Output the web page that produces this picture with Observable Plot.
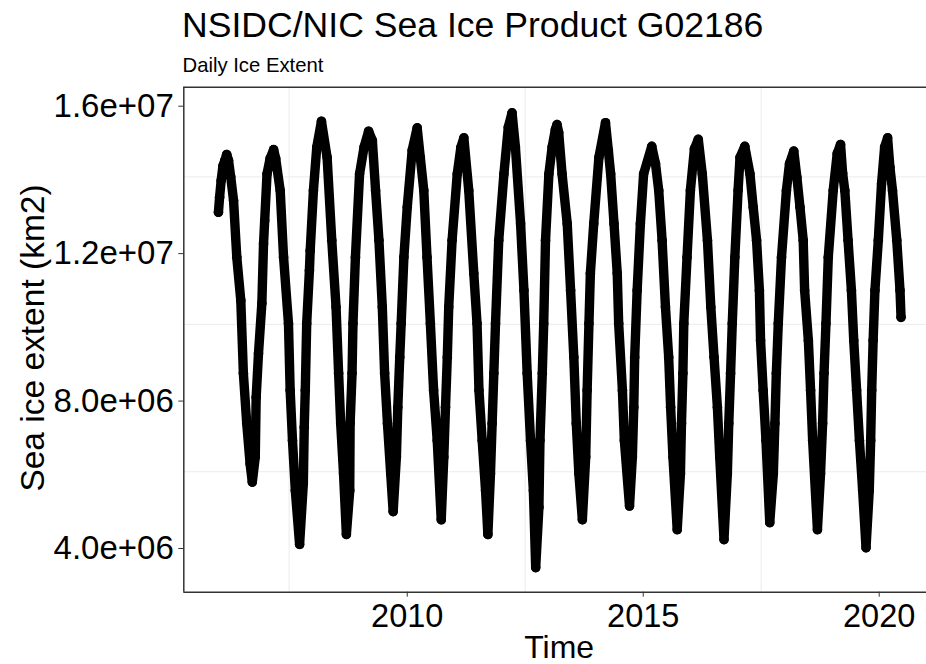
<!DOCTYPE html>
<html>
<head>
<meta charset="utf-8">
<script src="https://cdn.jsdelivr.net/npm/d3@7"></script>
<script src="https://cdn.jsdelivr.net/npm/@observablehq/plot@0.6"></script>
<style>
  html, body { margin: 0; padding: 0; background: #fff; }
  #wrap { position: relative; width: 926px; height: 664px; overflow: hidden; font-family: "Liberation Sans", Arial, Helvetica, sans-serif; }
  #header { position: relative; width: 926px; height: 80px; }
  #title { position: absolute; left: 182px; top: 8.3px; font-size: 35.6px; line-height: 1; color: #000; white-space: nowrap; }
  #subtitle { position: absolute; left: 182.5px; top: 54.7px; font-size: 20.3px; line-height: 1; color: #000; white-space: nowrap; }
  svg { display: block; }
</style>
</head>
<body>
<div id="wrap">
  <div id="header">
    <div id="title">NSIDC/NIC Sea Ice Product G02186</div>
    <div id="subtitle">Daily Ice Extent</div>
  </div>
  <div id="chart"></div>
</div>
<script>
// ---- Data (date, sea ice extent in km2) ----
const y2006 = [["2006-01-01",13.04e6],["2006-01-10",13.45e6],["2006-01-22",13.90e6],["2006-02-05",14.30e6],["2006-02-20",14.45e6],["2006-03-06",14.61e6],["2006-03-20",14.45e6],["2006-04-06",14.00e6],["2006-04-28",13.36e6],["2006-05-23",11.82e6],["2006-06-23",10.65e6],["2006-07-13",8.67e6],["2006-08-08",7.31e6],["2006-09-03",6.22e6],["2006-09-20",5.72e6],["2006-10-13",6.40e6],["2006-10-20",8.02e6],["2006-11-07",9.21e6],["2006-12-03",10.57e6],["2006-12-16",12.19e6],["2006-12-25",12.82e6]];
const y2007 = [["2007-01-12",14.08e6],["2007-02-05",14.50e6],["2007-03-04",14.74e6],["2007-03-20",14.50e6],["2007-04-24",13.63e6],["2007-05-20",11.82e6],["2007-06-27",10.02e6],["2007-07-10",8.21e6],["2007-07-28",6.85e6],["2007-08-19",5.49e6],["2007-09-21",4.03e6],["2007-10-20",5.68e6],["2007-10-27",7.21e6],["2007-11-04",8.21e6],["2007-11-15",10.02e6],["2007-12-06",11.46e6],["2007-12-12",12.00e6]];
const y2008 = [["2008-01-06",13.63e6],["2008-02-01",14.81e6],["2008-03-08",15.51e6],["2008-04-21",14.53e6],["2008-05-27",12.28e6],["2008-06-29",10.47e6],["2008-07-19",8.67e6],["2008-08-04",7.31e6],["2008-08-26",5.95e6],["2008-09-17",4.30e6],["2008-10-13",5.49e6],["2008-10-16",7.31e6],["2008-10-31",8.67e6],["2008-11-07",10.02e6],["2008-11-26",11.82e6],["2008-12-28",14.08e6]];
const y2009 = [["2009-02-01",14.81e6],["2009-03-08",15.24e6],["2009-04-06",14.99e6],["2009-05-01",13.63e6],["2009-05-27",12.28e6],["2009-06-22",10.47e6],["2009-07-10",8.67e6],["2009-08-01",7.31e6],["2009-08-26",5.95e6],["2009-09-14",4.92e6],["2009-10-09",6.40e6],["2009-10-20",7.75e6],["2009-11-04",9.11e6],["2009-11-15",10.02e6],["2009-12-06",11.82e6]];
const y2010 = [["2010-01-01",13.18e6],["2010-02-08",14.72e6],["2010-03-19",15.33e6],["2010-04-12",14.53e6],["2010-05-09",13.63e6],["2010-06-03",11.82e6],["2010-06-29",10.02e6],["2010-07-24",8.21e6],["2010-08-21",6.85e6],["2010-09-21",4.70e6],["2010-10-11",6.40e6],["2010-10-24",7.75e6],["2010-11-07",9.11e6],["2010-11-18",10.47e6],["2010-12-14",12.28e6]];
const y2011 = [["2011-01-23",14.08e6],["2011-02-20",14.80e6],["2011-03-15",15.06e6],["2011-04-22",13.63e6],["2011-05-31",11.38e6],["2011-06-25",10.02e6],["2011-07-10",8.21e6],["2011-08-04",6.85e6],["2011-08-30",5.49e6],["2011-09-17",4.30e6],["2011-10-07",5.95e6],["2011-10-20",7.31e6],["2011-11-02",8.67e6],["2011-11-15",10.02e6],["2011-12-10",12.28e6]];
const y2012 = [["2012-01-19",14.08e6],["2012-02-22",15.35e6],["2012-03-22",15.74e6],["2012-04-17",14.81e6],["2012-05-27",12.73e6],["2012-06-22",10.92e6],["2012-07-17",8.67e6],["2012-08-12",6.85e6],["2012-09-03",5.49e6],["2012-09-21",3.40e6],["2012-10-16",5.04e6],["2012-10-24",6.85e6],["2012-11-11",8.67e6],["2012-11-22",10.02e6],["2012-12-06",12.28e6]];
const y2013 = [["2013-01-01",14.08e6],["2013-01-26",14.81e6],["2013-02-20",15.28e6],["2013-03-05",15.42e6],["2013-03-18",15.20e6],["2013-04-13",14.08e6],["2013-05-23",12.73e6],["2013-06-18",10.92e6],["2013-07-13",9.11e6],["2013-08-01",7.31e6],["2013-08-21",5.95e6],["2013-09-17",4.70e6],["2013-10-13",6.40e6],["2013-10-24",8.21e6],["2013-11-07",10.02e6],["2013-11-18",11.38e6],["2013-12-14",12.73e6]];
const y2014 = [["2014-01-23",14.53e6],["2014-03-15",15.47e6],["2014-04-06",14.72e6],["2014-04-24",14.08e6],["2014-05-20",12.73e6],["2014-06-14",11.38e6],["2014-06-25",10.02e6],["2014-07-24",8.21e6],["2014-08-08",6.85e6],["2014-09-17",5.07e6],["2014-10-09",6.40e6],["2014-10-20",7.75e6],["2014-10-27",9.11e6],["2014-11-15",10.92e6],["2014-12-10",12.73e6]];
const y2015 = [["2015-01-04",14.08e6],["2015-03-08",14.83e6],["2015-04-06",14.36e6],["2015-05-01",13.63e6],["2015-05-27",12.28e6],["2015-06-22",10.47e6],["2015-07-17",9.11e6],["2015-08-01",7.75e6],["2015-08-19",6.40e6],["2015-09-21",4.43e6],["2015-10-16",5.95e6],["2015-10-24",7.31e6],["2015-11-04",8.67e6],["2015-11-11",10.02e6],["2015-12-06",11.82e6]];
const y2016 = [["2016-01-01",13.63e6],["2016-02-01",14.76e6],["2016-03-02",15.02e6],["2016-04-02",14.08e6],["2016-05-12",12.28e6],["2016-06-07",10.47e6],["2016-07-02",9.11e6],["2016-07-28",7.75e6],["2016-08-15",6.40e6],["2016-09-17",4.16e6],["2016-10-13",5.95e6],["2016-10-24",7.31e6],["2016-11-07",8.67e6],["2016-11-20",10.02e6],["2016-12-10",11.82e6]];
const y2017 = [["2017-01-04",13.63e6],["2017-01-19",14.53e6],["2017-02-25",14.83e6],["2017-04-06",14.08e6],["2017-05-01",13.18e6],["2017-05-27",12.28e6],["2017-06-18",10.92e6],["2017-06-27",9.56e6],["2017-07-17",8.21e6],["2017-08-08",6.85e6],["2017-09-06",4.62e6],["2017-10-04",5.95e6],["2017-10-16",7.31e6],["2017-10-27",8.67e6],["2017-11-11",10.02e6],["2017-12-06",11.82e6]];
const y2018 = [["2018-01-13",13.63e6],["2018-02-06",14.36e6],["2018-03-11",14.70e6],["2018-04-04",13.99e6],["2018-04-28",13.18e6],["2018-05-23",12.28e6],["2018-06-03",10.92e6],["2018-07-02",9.56e6],["2018-07-19",8.21e6],["2018-08-04",6.85e6],["2018-09-10",4.43e6],["2018-10-04",5.95e6],["2018-10-20",7.31e6],["2018-10-31",8.67e6],["2018-11-15",10.02e6],["2018-12-03",11.82e6]];
const y2019 = [["2019-01-10",13.63e6],["2019-02-10",14.63e6],["2019-03-08",14.88e6],["2019-03-24",14.10e6],["2019-04-10",13.63e6],["2019-05-05",12.28e6],["2019-05-31",10.92e6],["2019-06-18",9.56e6],["2019-07-10",8.21e6],["2019-08-01",6.85e6],["2019-08-26",5.49e6],["2019-09-21",3.94e6],["2019-10-16",5.49e6],["2019-10-27",6.85e6],["2019-11-04",8.21e6],["2019-11-15",9.56e6],["2019-11-29",10.92e6],["2019-12-25",12.28e6]];
const y2020 = [["2020-01-19",13.81e6],["2020-02-12",14.81e6],["2020-03-06",15.06e6],["2020-03-24",14.26e6],["2020-04-13",13.63e6],["2020-05-16",12.28e6],["2020-06-10",10.92e6],["2020-06-18",10.19e6]];

// ---- Axis ticks and labels ----
const yTicks = [4e6, 8e6, 12e6, 16e6];
const yTickLabels = ["4.0e+06", "8.0e+06", "1.2e+07", "1.6e+07"];
const yMinor = [6e6, 10e6, 14e6];
const xTicks = ["2010-01-01", "2015-01-01", "2020-01-01"];
const xTickLabels = ["2010", "2015", "2020"];
const xMinor = ["2007-07-02", "2012-07-02", "2017-07-02"];
const xTitle = "Time";
const yTitle = "Sea ice extent (km2)";

// ---- Scale domains (panel extent) ----
const xDomain = ["2005-04-08", "2021-01-01"].map(d => new Date(d));
const yDomain = [2.733e6, 16.434e6];

const table = [y2006, y2007, y2008, y2009, y2010, y2011, y2012, y2013, y2014, y2015, y2016, y2017, y2018, y2019, y2020]
  .flat()
  .map(([d, v]) => ({date: new Date(d), extent: v}));

const xTickDates = xTicks.map(d => new Date(d));
const xMinorDates = xMinor.map(d => new Date(d));

const chart = Plot.plot({
  width: 926,
  height: 584,
  marginLeft: 183.3,
  marginRight: 0,
  marginTop: 6.7,
  marginBottom: 72.3,
  style: {fontFamily: '"Liberation Sans", Arial, Helvetica, sans-serif', background: "white", color: "black", overflow: "visible"},
  x: {type: "utc", domain: xDomain},
  y: {domain: yDomain},
  marks: [
    Plot.ruleY(yMinor, {stroke: "#ebebeb", strokeWidth: 1}),
    Plot.ruleX(xMinorDates, {stroke: "#ebebeb", strokeWidth: 1}),
    Plot.line(table, {x: "date", y: "extent", stroke: "black", strokeWidth: 9.4, strokeLinejoin: "round", strokeLinecap: "round"}),
    Plot.dot(table, {x: "date", y: "extent", r: 4.8, fill: "black", stroke: null}),
    Plot.ruleY(yDomain, {stroke: "#333333", strokeWidth: 1.5}),
    Plot.ruleX([xDomain[0]], {stroke: "#333333", strokeWidth: 1.5}),
    Plot.axisY({
      ticks: yTicks,
      tickFormat: d => yTickLabels[yTicks.indexOf(d)],
      tickSize: 5, tickPadding: 5, fontSize: 33, dy: 3,
      stroke: "#333333", fill: "black", label: null
    }),
    Plot.axisX({
      ticks: xTickDates,
      tickFormat: d => xTickLabels[xTickDates.findIndex(t => +t === +d)],
      tickSize: 5, tickPadding: 7, fontSize: 32.5,
      stroke: "#333333", fill: "black", label: null
    }),
    Plot.text([xTitle], {frameAnchor: "bottom", textAnchor: "middle", lineAnchor: "middle", dx: 4, dy: 55.4, fontSize: 32, fill: "black", text: d => d}),
    Plot.text([yTitle], {frameAnchor: "left", textAnchor: "middle", lineAnchor: "middle", rotate: -90, dx: -151, dy: -1.7, fontSize: 33.5, fill: "black", text: d => d})
  ]
});
document.getElementById("chart").appendChild(chart);
</script>
</body>
</html>
